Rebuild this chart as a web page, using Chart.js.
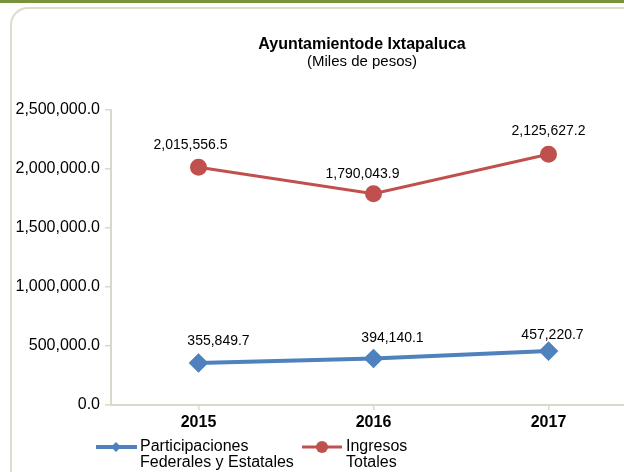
<!DOCTYPE html>
<html>
<head>
<meta charset="utf-8">
<script src="https://cdn.jsdelivr.net/npm/chart.js@4"></script>
<style>
  html, body { margin: 0; padding: 0; width: 624px; height: 472px; overflow: hidden; background: #fff; }
  #barra { position: absolute; left: 0; top: 0; width: 624px; height: 3px; background: #77933c; }
  #marco { position: absolute; left: 10px; top: 7px; width: 700px; height: 520px; border: 2px solid #dddccd; border-radius: 18px; }
  #caja { position: absolute; left: 0; top: 0; width: 660px; height: 472px; }
</style>
</head>
<body>
<div id="barra"></div>
<div id="marco"></div>
<div id="caja"><canvas id="myChart" width="660" height="472"></canvas></div>
<script>
const ctx = document.querySelector("#myChart");

const anios = ["2015", "2016", "2017"];
const participaciones = [355849.7, 394140.1, 457220.7];
const ingresos = [2015556.5, 1790043.9, 2125627.2];
const ticksY = [0, 500000, 1000000, 1500000, 2000000, 2500000];
const titulo = "Ayuntamientode Ixtapaluca";
const subtitulo = "(Miles de pesos)";
const leyendaPart = ["Participaciones", "Federales y Estatales"];
const leyendaIng = ["Ingresos", "Totales"];

const azul = "#4f81bd";
const rojo = "#c0504d";
const fuente = "'Liberation Sans', Arial, sans-serif";

const formato = (v) =>
  v.toLocaleString("en-US", { minimumFractionDigits: 1, maximumFractionDigits: 1 });

// etiquetas de datos, titulo y leyenda
const extras = {
  id: "extras",
  afterDraw(chart) {
    const c = chart.ctx;
    c.save();
    c.fillStyle = "#000";
    c.textAlign = "center";
    c.textBaseline = "middle";

    c.font = "14px " + fuente;
    chart.data.datasets.forEach((ds, i) => {
      const meta = chart.getDatasetMeta(i);
      meta.data.forEach((p, j) => {
        c.fillText(formato(ds.data[j]), p.x + ds.dx[j], p.y + ds.dy[j]);
      });
    });

    c.font = "bold 16px " + fuente;
    c.fillText(titulo, 362, 45);
    c.font = "15px " + fuente;
    c.fillText(subtitulo, 362, 62);

    // leyenda
    const y1 = 447, y2 = 463;
    c.lineWidth = 4;
    c.strokeStyle = azul;
    c.beginPath(); c.moveTo(96, y1); c.lineTo(137, y1); c.stroke();
    c.fillStyle = azul;
    c.beginPath(); c.moveTo(116, y1 - 5); c.lineTo(121, y1); c.lineTo(116, y1 + 5); c.lineTo(111, y1); c.closePath(); c.fill();
    c.lineWidth = 3;
    c.strokeStyle = rojo;
    c.beginPath(); c.moveTo(302, y1); c.lineTo(342, y1); c.stroke();
    c.fillStyle = rojo;
    c.beginPath(); c.arc(322, y1, 6, 0, Math.PI * 2); c.fill();

    c.fillStyle = "#000";
    c.textAlign = "left";
    c.font = "16px " + fuente;
    c.fillText(leyendaPart[0], 140, y1);
    c.fillText(leyendaPart[1], 140, y2);
    c.fillText(leyendaIng[0], 346, y1);
    c.fillText(leyendaIng[1], 346, y2);
    c.restore();
  },
};

new Chart(ctx, {
  type: "line",
  data: {
    labels: anios,
    datasets: [
      {
        label: leyendaPart.join(" "),
        data: participaciones,
        borderColor: azul,
        backgroundColor: azul,
        borderWidth: 4,
        pointStyle: "rectRot",
        pointRadius: 7,
        pointHoverRadius: 7,
        dx: [20, 19, 4],
        dy: [-22, -20, -16],
      },
      {
        label: leyendaIng.join(" "),
        data: ingresos,
        borderColor: rojo,
        backgroundColor: rojo,
        borderWidth: 3,
        pointStyle: "circle",
        pointRadius: 7,
        pointHoverRadius: 7,
        dx: [-8, -11, 0],
        dy: [-22, -20, -23],
      },
    ],
  },
  options: {
    responsive: false,
    animation: false,
    devicePixelRatio: 1,
    layout: { padding: { top: 110, right: 24, left: 0, bottom: 0 } },
    plugins: { legend: { display: false }, tooltip: { enabled: false } },
    scales: {
      x: {
        offset: true,
        afterFit: (s) => { s.height = 67; },
        grid: { drawOnChartArea: false, tickLength: 5, color: "#d9d9c9", lineWidth: 1.5 },
        border: { color: "#d9d9c9", width: 2 },
        ticks: { color: "#000", padding: 3, font: { family: fuente, size: 16, weight: "bold" } },
      },
      y: {
        min: 0,
        max: 2500000,
        afterFit: (s) => { s.width = 111; },
        afterBuildTicks: (s) => { s.ticks = ticksY.map((v) => ({ value: v })); },
        grid: { drawOnChartArea: false, tickLength: 6, color: "#d9d9c9", lineWidth: 1.5 },
        border: { color: "#d9d9c9", width: 2 },
        ticks: {
          color: "#000",
          padding: 5,
          font: { family: fuente, size: 16 },
          callback: (v) => formato(v),
        },
      },
    },
  },
  plugins: [extras],
});
</script>
</body>
</html>
